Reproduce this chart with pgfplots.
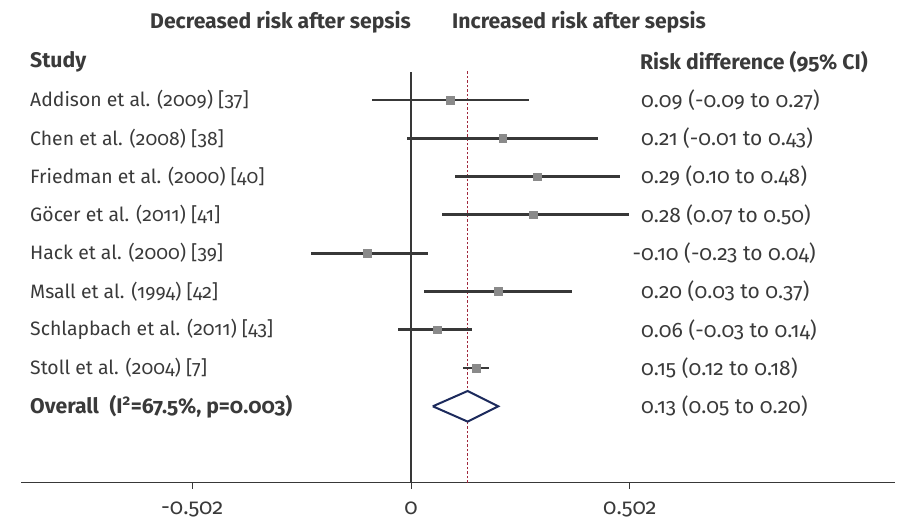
\documentclass[border=0pt]{standalone}
\usepackage{pgfplots}
\usepackage{pgfplotstable}
\pgfplotsset{compat=1.18}
\usepackage{fontspec}
\setmainfont[Numbers=OldStyle]{Fira Sans}
\definecolor{txt}{HTML}{3A3A3A}
\definecolor{ciline}{HTML}{383838}
\definecolor{mk}{HTML}{8A8A8A}
\definecolor{navy}{HTML}{1C2A5C}
\definecolor{dred}{HTML}{A0283C}
\pgfplotstableread{
row est lo hi
1 0.09 -0.09 0.27
2 0.21 -0.01 0.43
3 0.29 0.10 0.48
4 0.28 0.07 0.50
5 -0.10 -0.23 0.04
6 0.20 0.03 0.37
7 0.06 -0.03 0.14
8 0.15 0.12 0.18
}\data
\tikzset{lbl/.style={anchor=west, text=txt, inner sep=0pt, font=\fontsize{19.4}{24}\selectfont},
         val/.style={anchor=west, text=txt, inner sep=0pt, font=\fontsize{21}{24}\selectfont},
         hdr/.style={anchor=west, text=txt, inner sep=0pt, font=\fontsize{21.2}{24}\selectfont\bfseries}}
\begin{document}
\begin{tikzpicture}
\begin{axis}[
  scale only axis, width=874pt, height=411pt,
  xmin=-0.894, xmax=1.110, ymin=-11, ymax=-0.27,
  axis x line=bottom, axis y line=none,
  x axis line style={-, color=ciline, line width=1pt},
  xtick={-0.502,0,0.502}, xticklabels={-0.502,0,0.502},
  major tick length=6pt, tick align=outside,
  xtick style={color=ciline, line width=1pt},
  xticklabel style={font=\fontsize{22}{24}\selectfont, text=txt, yshift=-9pt},
  /pgf/number format/assume math mode=true,
  clip=false,
]
% reference lines
\addplot[color=ciline, line width=1.2pt] coordinates {(0,-11) (0,-0.27)};
\addplot[color=dred, line width=1.5pt, dash pattern=on 2.5pt off 2pt] coordinates {(0.13,-11) (0.13,-0.22)};
% CIs and estimates
\addplot[only marks, mark=square*, mark size=3.8pt, mark options={fill=mk, draw=mk},
  error bars/.cd, x dir=both, x explicit, error mark=none,
  error bar style={line width=2.8pt, color=ciline}]
  table[x=est, y expr=-\thisrow{row},
        x error plus expr=\thisrow{hi}-\thisrow{est},
        x error minus expr=\thisrow{est}-\thisrow{lo}] {\data};
% overall diamond
\addplot[color=navy, line width=2pt, fill=white] coordinates {(0.05,-9) (0.13,-8.6) (0.20,-9) (0.13,-9.4) (0.05,-9)};
% headers
\node[hdr] at (axis cs:-0.5986,1.037) {Decreased risk after sepsis};
\node[hdr] at (axis cs:0.094,1.037) {Increased risk after sepsis};
\node[hdr] at (axis cs:-0.8739,0) {Study};
\node[hdr] at (axis cs:0.525,0) {Risk difference (95\% CI)};
% study names
\node[lbl] at (axis cs:-0.8739,-1) {Addison et al. (2009) [37]};
\node[lbl] at (axis cs:-0.8739,-2) {Chen et al. (2008) [38]};
\node[lbl] at (axis cs:-0.8739,-3) {Friedman et al. (2000) [40]};
\node[lbl] at (axis cs:-0.8739,-4) {Göcer et al. (2011) [41]};
\node[lbl] at (axis cs:-0.8739,-5) {Hack et al. (2000) [39]};
\node[lbl] at (axis cs:-0.8739,-6) {Msall et al. (1994) [42]};
\node[lbl] at (axis cs:-0.8739,-7) {Schlapbach et al. (2011) [43]};
\node[lbl] at (axis cs:-0.8739,-8) {Stoll et al. (2004) [7]};
\node[hdr] at (axis cs:-0.8739,-9) {Overall\hspace{0.5em}(I\textsuperscript{2}=67.5\%, p=0.003)};
% values
\node[val] at (axis cs:0.5275,-1) {0.09 (-0.09 to 0.27)};
\node[val] at (axis cs:0.5275,-2) {0.21 (-0.01 to 0.43)};
\node[val] at (axis cs:0.5275,-3) {0.29 (0.10 to 0.48)};
\node[val] at (axis cs:0.5275,-4) {0.28 (0.07 to 0.50)};
\node[val] at (axis cs:0.5275,-5) {\llap{-}0.10 (-0.23 to 0.04)};
\node[val] at (axis cs:0.5275,-6) {0.20 (0.03 to 0.37)};
\node[val] at (axis cs:0.5275,-7) {0.06 (-0.03 to 0.14)};
\node[val] at (axis cs:0.5275,-8) {0.15 (0.12 to 0.18)};
\node[val] at (axis cs:0.5275,-9) {0.13 (0.05 to 0.20)};
\coordinate (bl) at (axis cs:-0.9427,-12.123);
\coordinate (tr) at (axis cs:1.1193,1.611);
\end{axis}
\pgfresetboundingbox
\path (bl) rectangle (tr);
\end{tikzpicture}
\end{document}
